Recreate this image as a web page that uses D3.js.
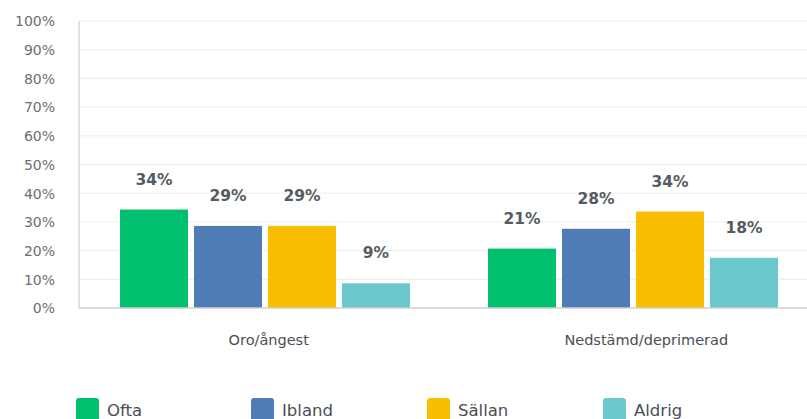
<!DOCTYPE html>
<html>
<head>
<meta charset="utf-8">
<script src="https://cdn.jsdelivr.net/npm/d3@7"></script>
<style>
  body { margin: 0; background: #fff; }
  svg { display: block; font-family: "DejaVu Sans", sans-serif; }
</style>
</head>
<body>
<svg id="chart" width="807" height="419"></svg>
<script>
const categories = ["Oro/ångest", "Nedstämd/deprimerad"];
const series = ["Ofta", "Ibland", "Sällan", "Aldrig"];
const colors = ["#00bf6f", "#507cb6", "#f9be00", "#6bc8cd"];
// percent per series, one entry per category
const ofta = [34.3, 20.7];
const ibland = [28.6, 27.6];
const sallan = [28.6, 33.6];
const aldrig = [8.6, 17.5];
const yTicks = [0, 10, 20, 30, 40, 50, 60, 70, 80, 90, 100];

const values = [ofta, ibland, sallan, aldrig];
const rows = categories.map((c, i) => ({
  cat: c,
  vals: series.map((s, j) => ({ key: s, v: values[j][i], color: colors[j] }))
}));

const svg = d3.select("#chart");
const plotLeft = 79, plotTop = 21, plotBottom = 308;

const y = d3.scaleLinear().domain([0, 100]).range([plotBottom, plotTop]);
const x0 = d3.scaleBand().domain(categories).range([81, 817]);
const x1 = d3.scaleBand().domain(series)
  .range([0, x0.bandwidth()])
  .paddingInner(0.081)
  .paddingOuter(0.527);
// category captions sit on a slightly wider band
const xLabel = d3.scaleBand().domain(categories).range([80, 835]);

// grid
svg.append("g")
  .selectAll("line")
  .data(yTicks.filter(d => d > 0))
  .join("line")
  .attr("x1", plotLeft).attr("x2", 807)
  .attr("y1", d => y(d)).attr("y2", d => y(d))
  .attr("stroke", "#ececec")
  .attr("stroke-width", 1);

// y labels
svg.append("g")
  .selectAll("text")
  .data(yTicks)
  .join("text")
  .attr("x", 55)
  .attr("y", d => y(d))
  .attr("dy", "0.38em")
  .attr("text-anchor", "end")
  .attr("font-size", 14)
  .attr("fill", "#6b6f73")
  .text(d => d + "%");

// axis lines
svg.append("line")
  .attr("x1", plotLeft).attr("x2", plotLeft)
  .attr("y1", plotTop).attr("y2", plotBottom)
  .attr("stroke", "#d9d9d9").attr("stroke-width", 1.5);

const groups = svg.append("g")
  .selectAll("g")
  .data(rows)
  .join("g")
  .attr("transform", d => `translate(${x0(d.cat)},0)`);

groups.selectAll("rect")
  .data(d => d.vals)
  .join("rect")
  .attr("x", d => x1(d.key))
  .attr("y", d => y(d.v))
  .attr("width", x1.bandwidth())
  .attr("height", d => plotBottom - y(d.v))
  .attr("fill", d => d.color);

groups.selectAll("text")
  .data(d => d.vals)
  .join("text")
  .attr("x", d => x1(d.key) + x1.bandwidth() / 2)
  .attr("y", d => y(d.v) - 25)
  .attr("text-anchor", "middle")
  .attr("font-size", 15.5)
  .attr("font-weight", "bold")
  .attr("fill", "#555b62")
  .text(d => Math.round(d.v) + "%");

svg.append("line")
  .attr("x1", plotLeft).attr("x2", 807)
  .attr("y1", plotBottom).attr("y2", plotBottom)
  .attr("stroke", "#d0d0d0").attr("stroke-width", 1.5);

// category labels
svg.append("g")
  .selectAll("text")
  .data(categories)
  .join("text")
  .attr("x", d => xLabel(d) + xLabel.bandwidth() / 2)
  .attr("y", 345)
  .attr("text-anchor", "middle")
  .attr("font-size", 14.5)
  .attr("fill", "#4a4e54")
  .text(d => d);

// legend
const legendX = [76, 251, 427, 603];
const lg = svg.append("g")
  .selectAll("g")
  .data(series)
  .join("g")
  .attr("transform", (d, i) => `translate(${legendX[i]},398)`);
lg.append("rect")
  .attr("width", 23).attr("height", 24)
  .attr("rx", 3)
  .attr("fill", (d, i) => colors[i]);
lg.append("text")
  .attr("x", 31)
  .attr("y", 18)
  .attr("font-size", 16.5)
  .attr("fill", "#4a4e54")
  .text(d => d);
</script>
</body>
</html>
